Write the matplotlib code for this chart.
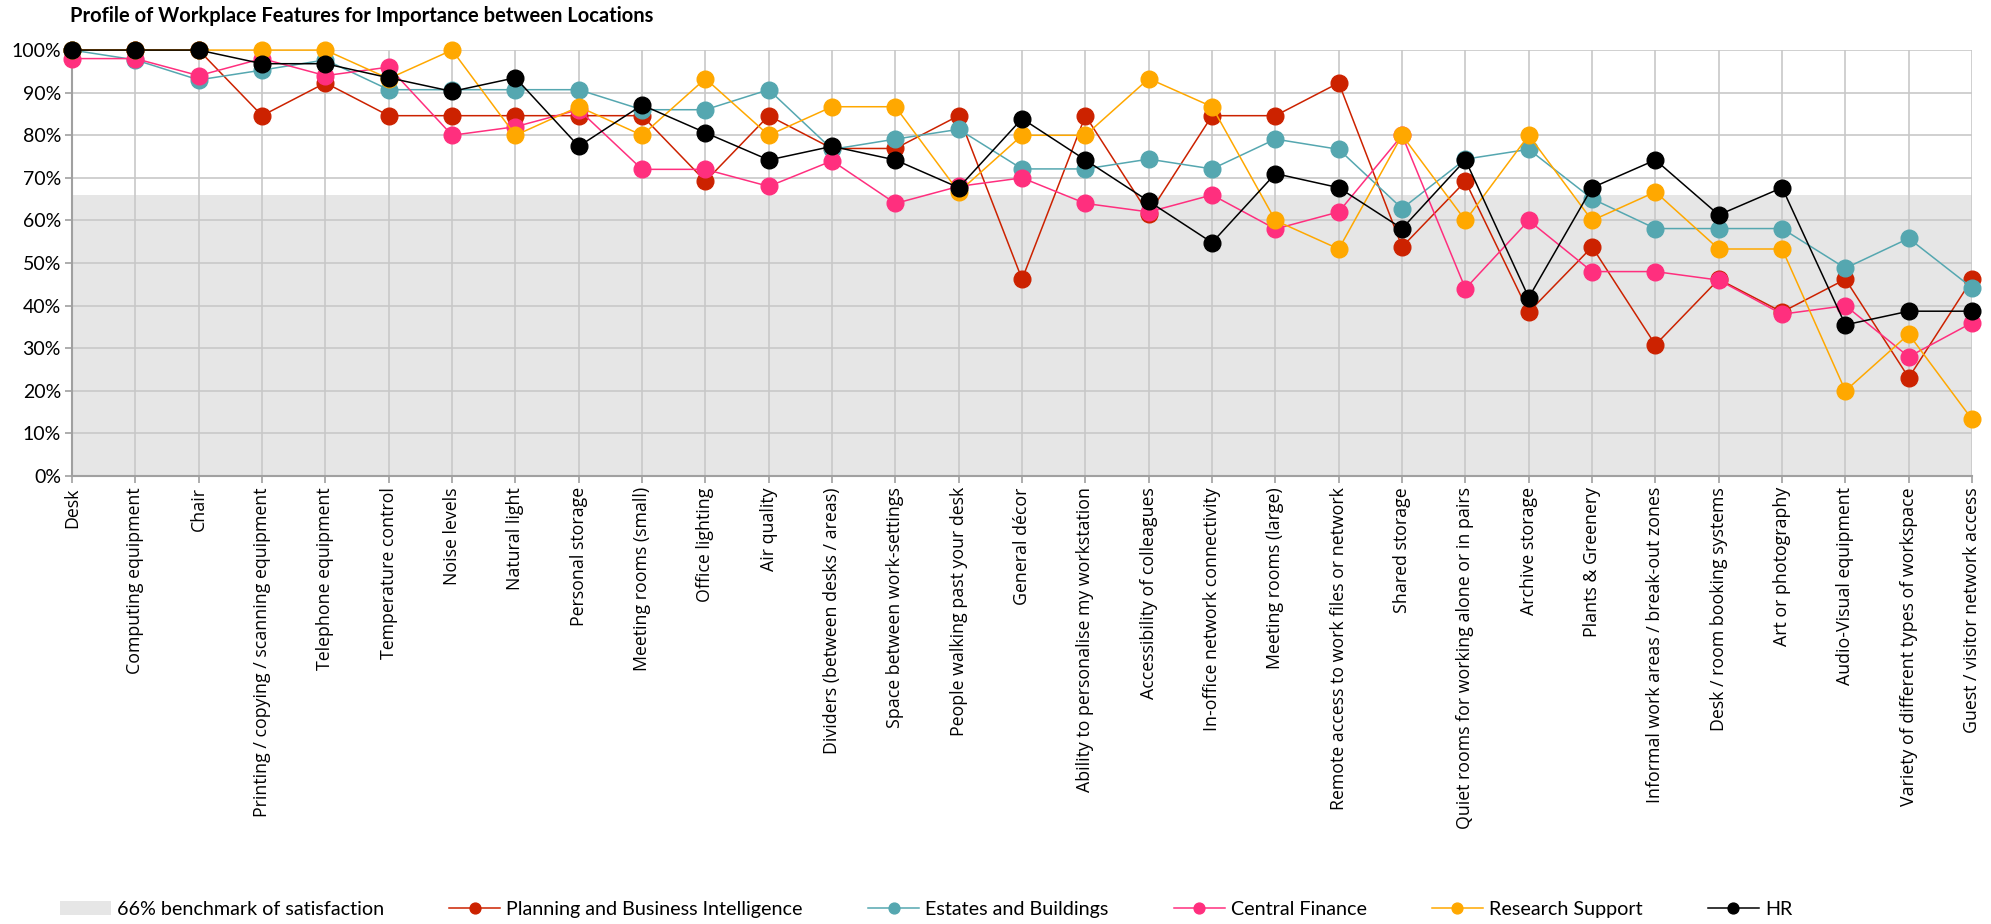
import numpy as np
import matplotlib
matplotlib.use("Agg")
import matplotlib.pyplot as plt
from matplotlib.ticker import PercentFormatter

features = [
    "Desk", "Computing equipment", "Chair", "Printing / copying / scanning equipment",
    "Telephone equipment", "Temperature control", "Noise levels", "Natural light",
    "Personal storage", "Meeting rooms (small)", "Office lighting", "Air quality",
    "Dividers (between desks / areas)", "Space between work-settings",
    "People walking past your desk", "General décor", "Ability to personalise my workstation",
    "Accessibility of colleagues", "In-office network connectivity", "Meeting rooms (large)",
    "Remote access to work files or network", "Shared storage",
    "Quiet rooms for working alone or in pairs", "Archive storage", "Plants & Greenery",
    "Informal work areas / break-out zones", "Desk / room booking systems",
    "Art or photography", "Audio-Visual equipment", "Variety of different types of workspace",
    "Guest / visitor network access",
]

planning = [100, 100, 100, 84.6, 92.3, 84.6, 84.6, 84.6, 84.6, 84.6, 69.2, 84.6, 76.9, 76.9,
            84.6, 46.2, 84.6, 61.5, 84.6, 84.6, 92.3, 53.8, 69.2, 38.5, 53.8, 30.8, 46.2,
            38.5, 46.2, 23.1, 46.2]
estates = [100, 97.7, 93.0, 95.3, 97.7, 90.7, 90.7, 90.7, 90.7, 86.0, 86.0, 90.7, 76.7, 79.1,
           81.4, 72.1, 72.1, 74.4, 72.1, 79.1, 76.7, 62.8, 74.4, 76.7, 65.1, 58.1, 58.1,
           58.1, 48.8, 55.8, 44.2]
finance = [98, 98, 94, 98, 94, 96, 80, 82, 86, 72, 72, 68, 74, 64, 68, 70, 64, 62, 66, 58,
           62, 80, 44, 60, 48, 48, 46, 38, 40, 28, 36]
research = [100, 100, 100, 100, 100, 93.3, 100, 80, 86.7, 80, 93.3, 80, 86.7, 86.7, 66.7, 80,
            80, 93.3, 86.7, 60, 53.3, 80, 60, 80, 60, 66.7, 53.3, 53.3, 20, 33.3, 13.3]
hr = [100, 100, 100, 96.8, 96.8, 93.5, 90.3, 93.5, 77.4, 87.1, 80.6, 74.2, 77.4, 74.2, 67.7,
      83.9, 74.2, 64.5, 54.8, 71.0, 67.7, 58.1, 74.2, 41.9, 67.7, 74.2, 61.3, 67.7, 35.5,
      38.7, 38.7]
benchmark = 66

series = [
    ("Planning and Business Intelligence", planning, "#CC2200"),
    ("Estates and Buildings", estates, "#55A7B0"),
    ("Central Finance", finance, "#FF2F7E"),
    ("Research Support", research, "#FFA800"),
    ("HR", hr, "#000000"),
]

fig = plt.figure(figsize=(19.91, 9.24), dpi=100)
ax = fig.add_axes([0.0362, 0.4848, 0.9543, 0.4610])

x = np.arange(len(features))
# grey band = benchmark area
ax.fill_between(x, 0, benchmark, color="#E6E6E6", lw=0, zorder=0,
                label="66% benchmark of satisfaction")

for i, (name, vals, col) in enumerate(series):
    ax.plot(x, vals, color=col, lw=1.1, marker="o", ms=12, mec=col,
            label=name, zorder=3 + i, clip_on=False)

ax.set_xlim(0, len(features) - 1)
ax.set_ylim(0, 100)
ax.set_yticks(np.arange(0, 101, 10))
ax.yaxis.set_major_formatter(PercentFormatter(100, decimals=0))
ax.set_xticks(x)
ax.set_xticklabels(features, rotation=90, fontsize=12.8, family="Open Sans")
for lab in ax.get_yticklabels():
    lab.set_fontsize(14)
    lab.set_family("Lato")

ax.set_axisbelow(True)
ax.grid(True, color="#C8C8C8", lw=1.2)
for s in ["top", "right"]:
    ax.spines[s].set_visible(False)
for s in ["left", "bottom"]:
    ax.spines[s].set_color("#A0A0A0")
    ax.spines[s].set_linewidth(1.5)
ax.tick_params(axis="both", length=5, color="#A0A0A0", width=1.2, pad=3)

fig.text(0.035, 0.983, "Profile of Workplace Features for Importance between Locations",
         fontsize=14.5, fontweight="bold", family="Lato", va="center", ha="left")

fig.legend(loc="center left", bbox_to_anchor=(0.030, 0.016), ncol=6, frameon=False,
           prop={"family": "Lato", "size": 14.2}, handlelength=2.6, handletextpad=0.3,
           columnspacing=3.3, borderpad=0, borderaxespad=0, markerscale=0.65)

fig.savefig("out.png", dpi=100)
